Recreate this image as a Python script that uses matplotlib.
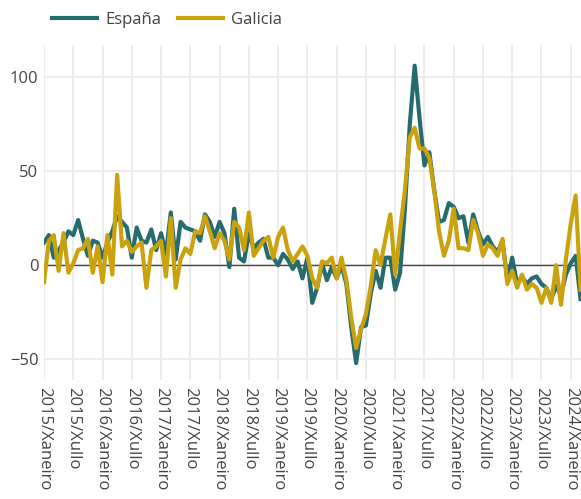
import matplotlib
matplotlib.use("Agg")
import matplotlib.pyplot as plt
import numpy as np

plt.rcParams['font.family'] = ['Open Sans', 'DejaVu Sans']

# monthly values from 2015/Xaneiro onwards
espana = [12, 16, 4, 8, 12, 18, 16, 24, 14, 5, 13, 12,
          4, 12, 18, 26, 23, 20, 4, 20, 13, 12, 19, 8,
          17, 6, 28, 3, 23, 20, 19, 18, 13, 27, 23, 15,
          23, 17, -1, 30, 4, 2, 17, 9, 12, 14, 4, 4,
          0, 6, 3, -2, 2, -7, 4, -20, -12, 1, -8, -1,
          -7, 0, -10, -33, -52, -33, -32, -15, -3, -12, 4, 4,
          -13, -4, 30, 75, 106, 78, 53, 60, 40, 23, 24, 33,
          31, 25, 26, 12, 27, 18, 11, 15, 10, 7, 13, -8,
          4, -10, -6, -10, -7, -6, -10, -12, -18, -11, -16, -5,
          1, 5, -18]
galicia = [-9, 13, 16, -3, 17, -4, 1, 8, 9, 14, -4, 10,
           -9, 16, -5, 48, 10, 13, 7, 10, 12, -12, 8, 10,
           13, -6, 25, -12, 3, 9, 6, 18, 17, 26, 18, 9,
           17, 13, 3, 23, 20, 8, 28, 5, 9, 13, 15, 4,
           15, 20, 8, 2, 6, 10, 5, -7, -12, 2, 1, 4,
           -7, 4, -8, -28, -44, -34, -26, -11, 8, 0, 14, 27,
           -5, 18, 40, 68, 73, 62, 62, 57, 40, 18, 5, 13,
           30, 9, 9, 8, 24, 17, 5, 11, 9, 5, 14, -10,
           -3, -12, -5, -13, -10, -12, -20, -12, -20, 0, -21, 3,
           22, 37, -13]

years = list(range(2015, 2025))
tick_labels = []
for y in years:
    tick_labels.append(f"{y}/Xaneiro")
    if y < 2024:
        tick_labels.append(f"{y}/Xullo")

months = np.arange(len(espana))
tick_pos = np.arange(len(tick_labels)) * 6

fig = plt.figure(figsize=(5.81, 4.99), dpi=100)
ax = fig.add_axes([44 / 581, 1 - 380 / 499, 1 - 44 / 581, (380 - 45) / 499])

ax.plot(months, espana, color="#266b6e", lw=3, label="España", zorder=3)
ax.plot(months, galicia, color="#c9a20d", lw=3, label="Galicia", zorder=4)
ax.axhline(0, color="#444444", lw=1, zorder=2)

ax.set_xlim(0, 110.1)
ax.set_ylim(-61, 117)
ax.set_yticks([-50, 0, 50, 100])
ax.set_yticklabels(["−50", "0", "50", "100"])
ax.set_xticks(tick_pos)
ax.set_xticklabels(tick_labels, rotation=-90)

ax.grid(True, color="#ebebeb", lw=1.3, zorder=0)
ax.set_axisbelow(True)
for s in ax.spines.values():
    s.set_visible(False)
ax.tick_params(length=0, labelsize=12, colors="#444444")
ax.tick_params(axis="x", pad=5)
ax.tick_params(axis="y", pad=4)

fig.legend(loc="upper left", bbox_to_anchor=(37 / 581, 1.006), ncol=2, frameon=False,
           fontsize=12, handlelength=2.7, columnspacing=1.0, handletextpad=0.5,
           labelcolor="#444444")

fig.savefig("out.png", dpi=100)
